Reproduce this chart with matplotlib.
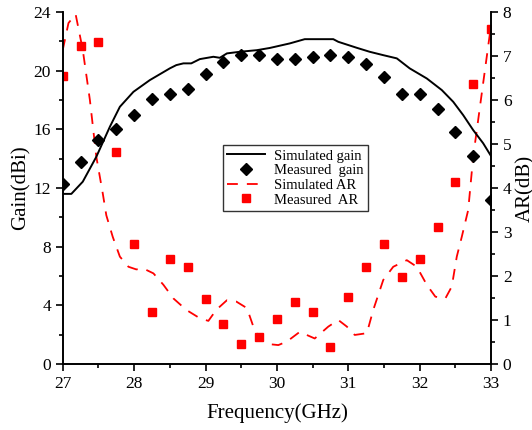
import numpy as np
import matplotlib
matplotlib.use('Agg')
import matplotlib.pyplot as plt
from matplotlib.ticker import MultipleLocator

plt.rcParams['font.family'] = ['Liberation Serif', 'DejaVu Serif']
plt.rcParams['mathtext.fontset'] = 'stix'

# measured points, every 0.25 GHz
freq_meas = [27.0, 27.25, 27.5, 27.75, 28.0, 28.25, 28.5, 28.75, 29.0, 29.25, 29.5, 29.75,
             30.0, 30.25, 30.5, 30.75, 31.0, 31.25, 31.5, 31.75, 32.0, 32.25, 32.5, 32.75, 33.0]
gain_meas = [12.3, 13.8, 15.3, 16.0, 17.0, 18.05, 18.4, 18.75, 19.75, 20.6, 21.1, 21.1,
             20.8, 20.8, 20.95, 21.1, 20.95, 20.45, 19.6, 18.4, 18.4, 17.4, 15.85, 14.15, 11.2]
ar_meas = [6.55, 7.23, 7.33, 4.83, 2.72, 1.19, 2.38, 2.21, 1.47, 0.90, 0.45, 0.61,
           1.02, 1.41, 1.19, 0.39, 1.52, 2.20, 2.72, 1.98, 2.39, 3.12, 4.14, 6.36, 7.61]

# simulated gain
freq_sim_gain = [27.0, 27.12, 27.28, 27.47, 27.66, 27.8, 27.99, 28.22, 28.5, 28.59, 28.69, 28.8,
                 28.92, 29.11, 29.2, 29.3, 29.48, 29.72, 29.9, 30.18, 30.39, 30.79, 30.86,
                 31.12, 31.3, 31.49, 31.68, 31.86, 32.1, 32.31, 32.47, 32.61, 32.75, 32.89, 33.0]
gain_sim = [11.6, 11.6, 12.43, 14.13, 16.18, 17.54, 18.56, 19.36, 20.16, 20.38, 20.5, 20.5,
            20.79, 20.95, 20.88, 21.18, 21.29, 21.4, 21.55, 21.86, 22.15, 22.15, 21.97,
            21.56, 21.29, 21.06, 20.84, 20.16, 19.47, 18.68, 17.88, 16.97, 15.95, 15.05, 14.18]

# simulated AR
freq_sim_ar = [27.0, 27.08, 27.18, 27.28, 27.38, 27.47, 27.56, 27.61, 27.7, 27.8, 27.92, 28.03,
               28.13, 28.27, 28.41, 28.55, 28.73, 28.92, 29.04, 29.15, 29.3, 29.43, 29.58,
               29.67, 29.76, 29.9, 30.02, 30.14, 30.32, 30.53, 30.72, 30.86, 30.98, 31.09,
               31.26, 31.35, 31.49, 31.63, 31.82, 31.96, 32.1, 32.22, 32.36, 32.45, 32.52,
               32.59, 32.68, 32.75, 32.87, 33.0]
ar_sim = [7.14, 7.75, 7.95, 7.14, 6.0, 4.71, 3.88, 3.38, 2.89, 2.44, 2.21, 2.15,
          2.17, 2.06, 1.80, 1.49, 1.23, 1.04, 0.98, 1.23, 1.45, 1.42, 1.27,
          0.85, 0.57, 0.45, 0.43, 0.51, 0.73, 0.58, 0.85, 1.0, 0.85, 0.66,
          0.70, 1.23, 1.91, 2.21, 2.36, 2.21, 1.80, 1.53, 1.49, 1.76, 2.44,
          2.89, 3.5, 4.71, 6.15, 7.7]

fig = plt.figure(figsize=(5.32, 4.30), dpi=100)
ax = fig.add_axes([0.118, 0.1535, 0.805, 0.8185])
ax2 = ax.twinx()

l1, = ax.plot(freq_sim_gain, gain_sim, color='black', lw=1.4, label='Simulated gain')
l2, = ax.plot(freq_meas, gain_meas, ls='none', marker='D', color='black', ms=6,
              label='Measured  gain')
l3, = ax2.plot(freq_sim_ar, ar_sim, color='red', lw=1.3, dashes=(6, 5), label='Simulated AR')
l4, = ax2.plot(freq_meas, ar_meas, ls='none', marker='s', color='red', ms=5.5,
               label='Measured  AR')

ax.set_xlim(27, 33)
ax.set_ylim(0, 24)
ax2.set_ylim(0, 8)
ax.xaxis.set_major_locator(MultipleLocator(1))
ax.xaxis.set_minor_locator(MultipleLocator(0.5))
ax.yaxis.set_major_locator(MultipleLocator(4))
ax.yaxis.set_minor_locator(MultipleLocator(2))
ax2.yaxis.set_major_locator(MultipleLocator(1))
ax2.yaxis.set_minor_locator(MultipleLocator(0.5))

for a in (ax, ax2):
    a.spines['top'].set_visible(False)
    for s in a.spines.values():
        s.set_linewidth(1.2)
    a.tick_params(which='major', direction='out', length=5, width=1.2, labelsize=12.5)
    a.tick_params(which='minor', direction='out', length=3, width=1.2)

ax.set_xlabel('Frequency(GHz)', fontsize=15, labelpad=8)
ax.set_ylabel('Gain(dBi)', fontsize=15, labelpad=2)
ax2.set_ylabel('AR(dB)', fontsize=15, labelpad=3)

leg = ax.legend(handles=[l1, l2, l3, l4], loc='lower left', bbox_to_anchor=(0.374, 0.435),
                fontsize=10.5, frameon=True, fancybox=False, handlelength=2.6,
                borderpad=0.3, labelspacing=0.1, handletextpad=0.6, borderaxespad=0)
leg.get_frame().set_edgecolor('black')
leg.get_frame().set_linewidth(1.0)
ax.set_zorder(ax2.get_zorder() + 1)
ax.patch.set_visible(False)

fig.savefig('out.png', dpi=100)
